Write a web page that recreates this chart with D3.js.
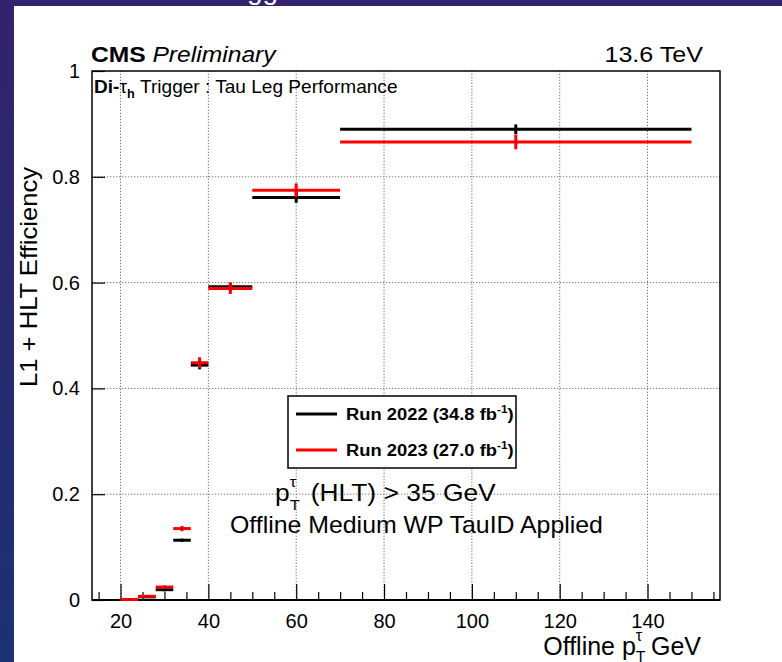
<!DOCTYPE html>
<html>
<head>
<meta charset="utf-8">
<script src="https://cdn.jsdelivr.net/npm/d3@7"></script>
<style>
  html, body { margin: 0; padding: 0; background: #fff; }
  svg { display: block; }
  text { font-family: "Liberation Sans", Arial, Helvetica, sans-serif; }
</style>
</head>
<body>
<svg id="chart" width="782" height="662"></svg>
<script>
// Bin edges in offline tau pT (GeV)
const binLow  = [20, 24, 28, 32, 36, 40, 50, 70];
const binHigh = [24, 28, 32, 36, 40, 50, 70, 150];

// L1 + HLT efficiency per bin, with symmetric statistical errors
const eff2022 = [0.001, 0.006, 0.0195, 0.113, 0.444, 0.592, 0.761, 0.890];
const err2022 = [0.001, 0.002, 0.003, 0.003, 0.008, 0.008, 0.010, 0.009];
const eff2023 = [0.001, 0.007, 0.0245, 0.135, 0.4485, 0.589, 0.7745, 0.866];
const err2023 = [0.001, 0.002, 0.003, 0.005, 0.0105, 0.0105, 0.013, 0.014];

const seriesNames = ["Run 2022 (34.8 fb", "Run 2023 (27.0 fb"];
const seriesColors = ["#000000", "#ff0000"];

const xMajorTicks = [20, 40, 60, 80, 100, 120, 140];
const xMinorTicks = d3.range(15, 156, 5).filter(v => v % 20 !== 0);
const yTicks = [0, 0.2, 0.4, 0.6, 0.8, 1];

const svg = d3.select("#chart");
const W = 782, H = 662;

// text placed at (x, y), widened horizontally by sx
function wideText(px, py, sx, size, anchor) {
  return svg.append("g").attr("transform", `translate(${px},${py}) scale(${sx},1)`)
    .append("text").attr("font-size", size).attr("fill", "#000")
    .attr("text-anchor", anchor || "start");
}

// slide background and white canvas
const defs = svg.append("defs");
const grad = defs.append("linearGradient").attr("id", "bg")
  .attr("x1", "0").attr("y1", "0").attr("x2", "0").attr("y2", "1");
grad.append("stop").attr("offset", "0").attr("stop-color", "#33226e");
grad.append("stop").attr("offset", "1").attr("stop-color", "#1b3275");
svg.append("rect").attr("width", W).attr("height", H).attr("fill", "url(#bg)");

// slide title, mostly cut off above the canvas
svg.append("text").attr("x", 247).attr("y", -1)
  .attr("font-size", 28).attr("fill", "#fff").text("gg");

svg.append("rect").attr("x", 14).attr("y", 6).attr("width", W - 14).attr("height", H - 6)
  .attr("fill", "#fff");

const x = d3.scaleLinear().domain([13.5, 156.5]).range([92, 720]);
const y = d3.scaleLinear().domain([0, 1]).range([600, 71]);

// grid
const grid = svg.append("g").attr("stroke", "#777").attr("stroke-width", 1)
  .attr("stroke-dasharray", "1.3,1.7");
grid.selectAll("line.gx").data(xMajorTicks).join("line")
  .attr("x1", d => x(d)).attr("x2", d => x(d))
  .attr("y1", y(0)).attr("y2", y(1));
grid.selectAll("line.gy").data(yTicks.filter(v => v > 0 && v < 1)).join("line")
  .attr("x1", x(13.5)).attr("x2", x(156.5))
  .attr("y1", d => y(d)).attr("y2", d => y(d));

// axes
const xAxisMajor = d3.axisBottom(x).tickValues(xMajorTicks).tickSize(-16).tickPadding(14)
  .tickFormat(d3.format("d"));
const xAxisMinor = d3.axisBottom(x).tickValues(xMinorTicks).tickSize(-8).tickFormat("");
const gxMinor = svg.append("g").attr("transform", `translate(0,${y(0)})`).call(xAxisMinor);
const gx = svg.append("g").attr("transform", `translate(0,${y(0)})`).call(xAxisMajor);
[gx, gxMinor].forEach(g => {
  g.select(".domain").remove();
  g.selectAll(".tick line").attr("stroke", "#000").attr("stroke-width", 1.2);
});
gx.selectAll(".tick text").attr("font-size", 20).attr("fill", "#000")
  .attr("font-family", "Liberation Sans, Arial, sans-serif");

const yAxis = d3.axisLeft(y).tickValues(yTicks).tickSize(-13).tickPadding(12)
  .tickFormat(d => (d === 0 ? "0" : d === 1 ? "1" : d3.format(".1f")(d)));
const gy = svg.append("g").attr("transform", `translate(${x(13.5)},0)`).call(yAxis);
gy.select(".domain").remove();
gy.selectAll(".tick line").attr("stroke", "#000").attr("stroke-width", 1.2);
gy.selectAll(".tick text").attr("font-size", 20).attr("fill", "#000")
  .attr("font-family", "Liberation Sans, Arial, sans-serif");

// frame
svg.append("rect").attr("x", x(13.5)).attr("y", y(1))
  .attr("width", x(156.5) - x(13.5)).attr("height", y(0) - y(1))
  .attr("fill", "none").attr("stroke", "#000").attr("stroke-width", 1.5);
svg.append("line").attr("x1", x(13.5)).attr("x2", x(156.5)).attr("y1", y(0)).attr("y2", y(0))
  .attr("stroke", "#000").attr("stroke-width", 2.2);

// efficiency points: horizontal bin-width bar plus vertical error bar
const series = [
  { eff: eff2022, err: err2022, color: seriesColors[0] },
  { eff: eff2023, err: err2023, color: seriesColors[1] }
];
series.forEach(s => {
  const pts = binLow.map((lo, i) => ({
    lo, hi: binHigh[i], c: (lo + binHigh[i]) / 2, v: s.eff[i], e: s.err[i]
  }));
  const g = svg.append("g").attr("stroke", s.color).attr("stroke-width", 3);
  g.selectAll("line.h").data(pts).join("line")
    .attr("x1", d => x(d.lo)).attr("x2", d => x(d.hi))
    .attr("y1", d => y(d.v)).attr("y2", d => y(d.v));
  g.selectAll("line.v").data(pts).join("line")
    .attr("x1", d => x(d.c)).attr("x2", d => x(d.c))
    .attr("y1", d => y(d.v - d.e)).attr("y2", d => y(d.v + d.e));
  svg.append("g").selectAll("rect").data(pts).join("rect")
    .attr("x", d => x(d.c) - 0.5).attr("y", d => y(d.v) - 0.5)
    .attr("width", 1).attr("height", 1).attr("fill", "#000");
});

// legend
const leg = svg.append("g");
leg.append("rect").attr("x", 288).attr("y", 396).attr("width", 228).attr("height", 72)
  .attr("fill", "#fff").attr("stroke", "#000").attr("stroke-width", 1.5);
seriesNames.forEach((name, i) => {
  const ly = 414 + i * 36;
  leg.append("line").attr("x1", 296).attr("x2", 337).attr("y1", ly).attr("y2", ly)
    .attr("stroke", seriesColors[i]).attr("stroke-width", 3);
  const t = wideText(346, ly + 6, 1.08, 17).attr("font-weight", "bold");
  t.append("tspan").text(name);
  t.append("tspan").attr("font-size", 11).attr("dy", -7).text("-1");
  t.append("tspan").attr("dy", 7).text(")");
});

// header texts
const cms = wideText(91, 62, 1.12, 22);
cms.append("tspan").attr("font-weight", "bold").text("CMS");
cms.append("tspan").attr("font-style", "italic").attr("dx", 6).text("Preliminary");
wideText(703, 62, 1.14, 22, "end").text("13.6 TeV");

const tag = wideText(94, 93, 1.06, 18);
tag.append("tspan").attr("font-weight", "bold").text("Di-");
tag.append("tspan").text("τ");
tag.append("tspan").attr("font-weight", "bold").attr("font-size", 12).attr("dy", 5).text("h");
tag.append("tspan").attr("dy", -5).attr("dx", 5).text("Trigger : Tau Leg Performance");

// selection texts
const sel1 = wideText(275, 501, 1.1, 24);
sel1.append("tspan").text("p");
sel1.append("tspan").attr("font-size", 15).attr("dy", 9).text("T");
sel1.append("tspan").attr("font-size", 15).attr("dx", -9).attr("dy", -23).text("τ");
sel1.append("tspan").attr("dy", 14).attr("dx", 13).text("(HLT) > 35 GeV");
wideText(230, 533, 1.036, 24).text("Offline Medium WP TauID Applied");

// axis titles
const xt = wideText(701, 655, 1.0, 25, "end");
xt.append("tspan").text("Offline p");
xt.append("tspan").attr("font-size", 16).attr("dy", 8).text("T");
xt.append("tspan").attr("font-size", 16).attr("dx", -10).attr("dy", -22).text("τ");
xt.append("tspan").attr("dy", 14).attr("dx", 9).text("GeV");

svg.append("text").attr("transform", "translate(37,167) rotate(-90)")
  .attr("text-anchor", "end").attr("font-size", 24).attr("fill", "#000")
  .attr("textLength", 220).attr("lengthAdjust", "spacingAndGlyphs")
  .text("L1 + HLT Efficiency");
</script>
</body>
</html>
